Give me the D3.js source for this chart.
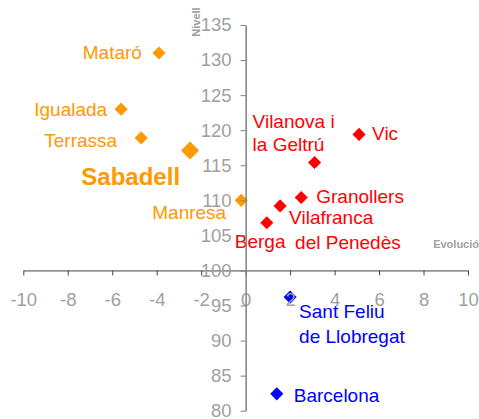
<!DOCTYPE html>
<html>
<head>
<meta charset="utf-8">
<script src="https://cdn.jsdelivr.net/npm/d3@7"></script>
<style>
  body { margin: 0; background: #fff; }
  text { font-family: "Liberation Sans", Arial, sans-serif; }
</style>
</head>
<body>
<svg class="chart"></svg>
<script>
const width = 479;
const height = 419;

// data
const cities = ["Mataró", "Igualada", "Terrassa", "Sabadell", "Manresa",
  "Vic", "Vilanova i la Geltrú", "Granollers", "Vilafranca del Penedès", "Berga",
  "Sant Feliu de Llobregat", "Barcelona"];
const evolucio = [-3.9, -5.6, -4.7, -2.5, -0.2, 5.1, 3.1, 2.5, 1.55, 0.95, 2.0, 1.4];
const nivell = [131, 123, 118.9, 117.1, 110, 119.4, 115.4, 110.4, 109.2, 106.8, 96.2, 82.4];
const groups = ["taronja", "taronja", "taronja", "taronja", "taronja",
  "vermell", "vermell", "vermell", "vermell", "vermell", "blau", "blau"];
const xTicks = [-10, -8, -6, -4, -2, 0, 2, 4, 6, 8, 10];
const yTicks = [80, 85, 90, 95, 100, 105, 110, 115, 120, 125, 130, 135];

const colors = { taronja: "#ff9900", vermell: "#ff0000", blau: "#0000ff" };

// label layout: offsets in px from the marker, one entry per line
const labelLayout = {
  "Mataró": { anchor: "end", lines: [["Mataró", -17, -1]] },
  "Igualada": { anchor: "end", lines: [["Igualada", -14, 0]] },
  "Terrassa": { anchor: "end", lines: [["Terrassa", -24, 2]] },
  "Sabadell": { anchor: "end", bold: true, lines: [["Sabadell", -10, 26]] },
  "Manresa": { anchor: "end", lines: [["Manresa", -15, 12]] },
  "Vic": { anchor: "start", lines: [["Vic", 13, -1]] },
  "Vilanova i la Geltrú": { anchor: "start", lines: [["Vilanova i", -62, -41], ["la Geltrú", -62, -18]] },
  "Granollers": { anchor: "start", lines: [["Granollers", 15, -1]] },
  "Vilafranca del Penedès": { anchor: "start", lines: [["Vilafranca", 9, 11], ["del Penedès", 15, 36]] },
  "Berga": { anchor: "start", lines: [["Berga", -32, 19]] },
  "Sant Feliu de Llobregat": { anchor: "start", lines: [["Sant Feliu", 9, 14], ["de Llobregat", 9, 39]] },
  "Barcelona": { anchor: "start", lines: [["Barcelona", 17, 1]] },
};

const points = cities.map((c, i) => ({
  city: c, x: evolucio[i], y: nivell[i], group: groups[i]
}));

const svg = d3.select(".chart").attr("width", width).attr("height", height);

const xScale = d3.scaleLinear().domain([-10, 10]).range([23.3, 468]);
const yScale = d3.scaleLinear().domain([80, 135]).range([410.7, 25]);

// markers
svg.append("g")
  .selectAll("path")
  .data(points)
  .enter()
  .append("path")
  .attr("d", (d) => d3.symbol(d3.symbolSquare, d.city === "Sabadell" ? 165 : 86)())
  .attr("transform", (d) => `translate(${xScale(d.x)},${yScale(d.y)}) rotate(45)`)
  .attr("fill", (d) => colors[d.group]);

// labels
const labels = svg.append("g");
points.forEach((d) => {
  const l = labelLayout[d.city];
  l.lines.forEach(([txt, dx, dy]) => {
    labels.append("text")
      .attr("x", xScale(d.x) + dx)
      .attr("y", yScale(d.y) + dy)
      .attr("dy", "0.35em")
      .attr("text-anchor", l.anchor)
      .attr("fill", colors[d.group])
      .style("font-size", l.bold ? "24px" : "19px")
      .style("font-weight", l.bold ? "bold" : "normal")
      .text(txt);
  });
});

// axes, crossing at (0, 100)
const xAxis = svg.append("g")
  .attr("transform", `translate(0,${yScale(100)})`)
  .call(d3.axisBottom(xScale).tickValues(xTicks).tickFormat((d) => String(d))
    .tickSize(5).tickSizeOuter(0).tickPadding(17.5));
xAxis.select(".domain").attr("stroke", "#444");
xAxis.selectAll(".tick line").attr("stroke", "#444");
xAxis.selectAll(".tick text")
  .attr("fill", "#a0a0a0")
  .style("font-size", "18.5px")
  .style("font-family", "'Liberation Sans', Arial, sans-serif");

const yAxis = svg.append("g")
  .attr("transform", `translate(${xScale(0)},0)`)
  .call(d3.axisLeft(yScale).tickValues(yTicks).tickSize(5).tickSizeOuter(0).tickPadding(9));
yAxis.select(".domain").attr("stroke", "#808080").attr("stroke-width", 1.5);
yAxis.selectAll(".tick line").attr("stroke", "#808080");
yAxis.selectAll(".tick text")
  .attr("fill", "#a0a0a0")
  .style("font-size", "18.5px")
  .style("font-family", "'Liberation Sans', Arial, sans-serif");

// axis titles
svg.append("text")
  .attr("transform", "translate(200,22) rotate(-90)")
  .attr("text-anchor", "middle")
  .attr("fill", "#a0a0a0")
  .style("font-size", "11px")
  .style("font-weight", "bold")
  .text("Nivell");

svg.append("text")
  .attr("x", 479)
  .attr("y", 244)
  .attr("dy", "0.35em")
  .attr("text-anchor", "end")
  .attr("fill", "#a0a0a0")
  .style("font-size", "11px")
  .style("font-weight", "bold")
  .text("Evolució");
</script>
</body>
</html>
